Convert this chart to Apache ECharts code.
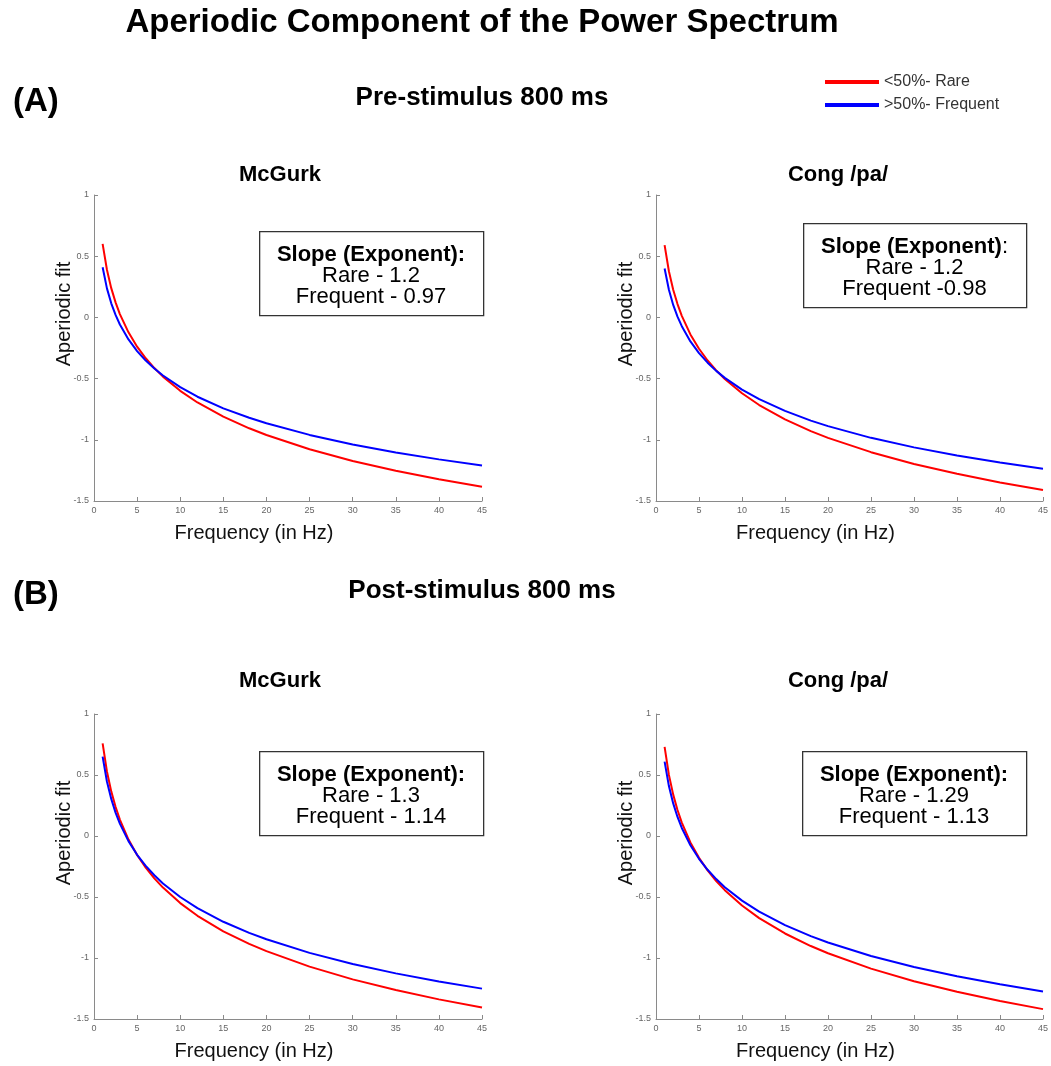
<!DOCTYPE html>
<html>
<head>
<meta charset="utf-8">
<script src="https://cdn.jsdelivr.net/npm/echarts@6/dist/echarts.min.js"></script>
<style>
  html, body { margin: 0; padding: 0; background: #fff; }
  #chart { width: 1051px; height: 1066px; }
</style>
</head>
<body>
<div id="chart"></div>
<script>
const freqs = [1, 1.5, 2, 2.5, 3, 4, 5, 6, 7, 8, 10, 12, 15, 18, 20, 25, 30, 35, 40, 45];

// (A) pre-stimulus
const preMcgurkRare = [0.600, 0.389, 0.239, 0.123, 0.027, -0.122, -0.239, -0.334, -0.414, -0.484, -0.600, -0.695, -0.811, -0.906, -0.961, -1.077, -1.173, -1.253, -1.323, -1.384];
const preMcgurkFreq = [0.410, 0.237, 0.115, 0.020, -0.058, -0.180, -0.275, -0.353, -0.418, -0.475, -0.570, -0.648, -0.743, -0.820, -0.865, -0.960, -1.038, -1.103, -1.160, -1.210];
const preCongRare = [0.590, 0.377, 0.226, 0.109, 0.013, -0.139, -0.256, -0.352, -0.433, -0.503, -0.620, -0.716, -0.833, -0.929, -0.984, -1.101, -1.197, -1.278, -1.349, -1.410];
const preCongFreq = [0.400, 0.226, 0.102, 0.006, -0.072, -0.196, -0.292, -0.370, -0.437, -0.494, -0.590, -0.668, -0.764, -0.843, -0.888, -0.984, -1.062, -1.129, -1.186, -1.237];

// (B) post-stimulus
const postMcgurkRare = [0.760, 0.529, 0.366, 0.239, 0.135, -0.029, -0.156, -0.259, -0.347, -0.423, -0.550, -0.654, -0.781, -0.884, -0.944, -1.071, -1.175, -1.263, -1.339, -1.406];
const postMcgurkFreq = [0.650, 0.447, 0.304, 0.192, 0.101, -0.042, -0.154, -0.245, -0.322, -0.389, -0.500, -0.591, -0.703, -0.794, -0.846, -0.958, -1.049, -1.126, -1.192, -1.251];
const postCongRare = [0.730, 0.501, 0.339, 0.213, 0.110, -0.053, -0.179, -0.282, -0.369, -0.444, -0.570, -0.673, -0.799, -0.902, -0.961, -1.087, -1.190, -1.277, -1.353, -1.419];
const postCongFreq = [0.610, 0.409, 0.267, 0.156, 0.066, -0.076, -0.187, -0.277, -0.353, -0.420, -0.530, -0.620, -0.731, -0.821, -0.873, -0.984, -1.074, -1.150, -1.216, -1.275];

// slope annotations per panel
const slopeRare = ["1.2", "1.2", "1.3", "1.29"];
const slopeFreq = ["- 0.97", "-0.98", "- 1.14", "- 1.13"];

const rareName = "<50%- Rare";
const freqName = ">50%- Frequent";
const font = "'Liberation Sans', Arial, sans-serif";

const grids = [
  { left: 94, top: 195, width: 388, height: 306 },
  { left: 656, top: 195, width: 387, height: 306 },
  { left: 94, top: 714, width: 388, height: 305 },
  { left: 656, top: 714, width: 387, height: 305 }
];
const panelData = [
  [preMcgurkRare, preMcgurkFreq],
  [preCongRare, preCongFreq],
  [postMcgurkRare, postMcgurkFreq],
  [postCongRare, postCongFreq]
];
const boxes = [
  { x: 259, y: 231, w: 224, h: 84, colonBold: true },
  { x: 803, y: 223, w: 223, h: 84, colonBold: false },
  { x: 259, y: 751, w: 224, h: 84, colonBold: true },
  { x: 802, y: 751, w: 224, h: 84, colonBold: true }
];

const axisLine = { onZero: false, lineStyle: { color: "#8a8a8a", width: 1 } };
const axisTick = { inside: true, length: 4, lineStyle: { color: "#8a8a8a" } };
const axisLabel = { fontSize: 9, color: "#666", fontFamily: font, margin: 5 };

const xAxes = grids.map((g, i) => ({
  type: "value", gridIndex: i, min: 0, max: 45, interval: 5,
  axisLine, axisTick, axisLabel, splitLine: { show: false }
}));
const yAxes = grids.map((g, i) => ({
  type: "value", gridIndex: i, min: -1.5, max: 1, interval: 0.5,
  axisLine: { show: true, ...axisLine }, axisTick: { show: true, ...axisTick },
  axisLabel, splitLine: { show: false }
}));

const series = [];
panelData.forEach(([rare, freq], i) => {
  [[rareName, rare, "#ff0000"], [freqName, freq, "#0000ff"]].forEach(([name, vals, color]) => {
    series.push({
      name, type: "line", xAxisIndex: i, yAxisIndex: i,
      data: freqs.map((f, k) => [f, vals[k]]),
      showSymbol: false, symbol: "none",
      lineStyle: { color, width: 2 }, itemStyle: { color },
      silent: true
    });
  });
});

const titleTexts = [
  { text: "Aperiodic Component of the Power Spectrum", left: 482, top: 6, size: 33, align: "center" },
  { text: "(A)", left: 13, top: 85, size: 33, align: "left" },
  { text: "Pre-stimulus 800 ms", left: 482, top: 85, size: 26, align: "center" },
  { text: "McGurk", left: 280, top: 164, size: 22, align: "center" },
  { text: "Cong /pa/", left: 838, top: 164, size: 22, align: "center" },
  { text: "(B)", left: 13, top: 578, size: 33, align: "left" },
  { text: "Post-stimulus 800 ms", left: 482, top: 578, size: 26, align: "center" },
  { text: "McGurk", left: 280, top: 670, size: 22, align: "center" },
  { text: "Cong /pa/", left: 838, top: 670, size: 22, align: "center" }
];

const graphic = [];
grids.forEach(g => {
  // axis titles sit a little off the plot centre, as in the original figure
  graphic.push({
    type: "text", x: g.left + g.width / 2 - 34, y: g.top + g.height + 32,
    style: { text: "Frequency (in Hz)", fontSize: 20, fontFamily: font, fill: "#111", align: "center", verticalAlign: "middle" }
  });
  graphic.push({
    type: "text", x: g.left - 30, y: g.top + 119, rotation: Math.PI / 2,
    style: { text: "Aperiodic fit", fontSize: 20, fontFamily: font, fill: "#111", align: "center", verticalAlign: "middle" }
  });
});

boxes.forEach((b, i) => {
  graphic.push({
    type: "rect", left: b.x, top: b.y, z: 10,
    shape: { width: b.w, height: b.h },
    style: { fill: "#fff", stroke: "#333", lineWidth: 1.3 }
  });
  const head = b.colonBold ? "{b|Slope (Exponent):}" : "{b|Slope (Exponent)}{n|:}";
  graphic.push({
    type: "text", x: b.x + b.w / 2, y: b.y + 13, z: 11,
    style: {
      text: head + "\n{n|Rare - " + slopeRare[i] + "}\n{n|Frequent " + slopeFreq[i] + "}",
      align: "center", verticalAlign: "top",
      rich: {
        b: { fontSize: 22, fontWeight: "bold", fontFamily: font, fill: "#000", lineHeight: 21 },
        n: { fontSize: 22, fontFamily: font, fill: "#000", lineHeight: 21 }
      }
    }
  });
});

const chart = echarts.init(document.getElementById("chart"));
chart.setOption({
  animation: false,
  backgroundColor: "#fff",
  title: titleTexts.map(t => ({
    text: t.text, left: t.left, top: t.top, textAlign: t.align, padding: 0,
    textStyle: { fontSize: t.size, fontWeight: "bold", color: "#000", fontFamily: font }
  })),
  legend: {
    data: [rareName, freqName],
    orient: "vertical", left: 825, top: 74, padding: 0,
    icon: "rect", itemWidth: 54, itemHeight: 4, itemGap: 7,
    textStyle: { fontSize: 16, color: "#333", fontFamily: font },
    selectedMode: false
  },
  grid: grids,
  xAxis: xAxes,
  yAxis: yAxes,
  series,
  graphic
});
</script>
</body>
</html>
